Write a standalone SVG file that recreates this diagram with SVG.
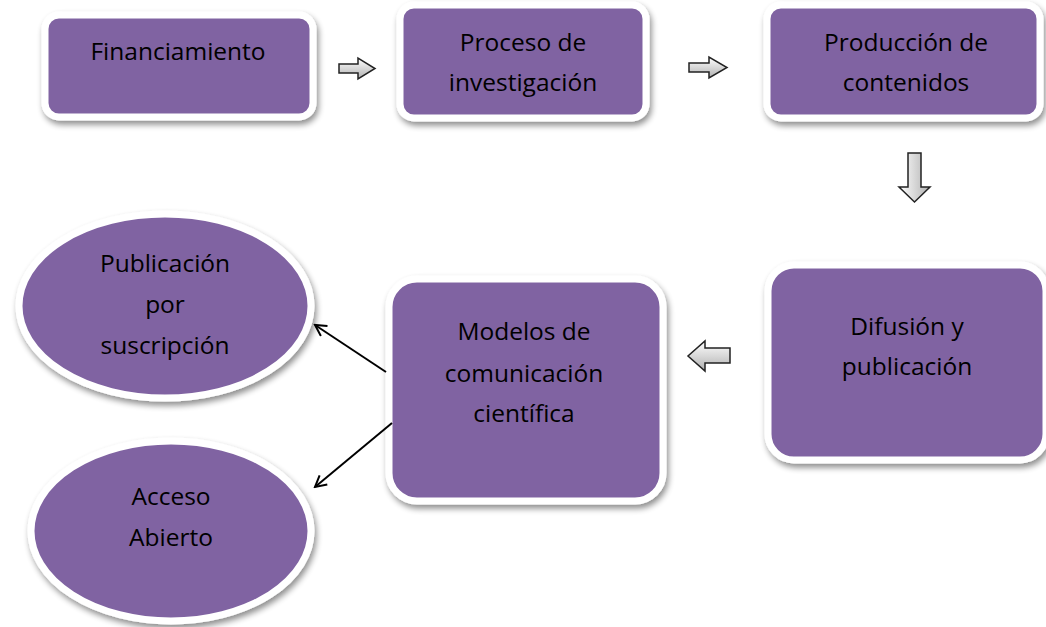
<svg xmlns="http://www.w3.org/2000/svg" width="1046" height="627" viewBox="0 0 1046 627">
<defs>
<filter id="sh" x="-10%" y="-10%" width="130%" height="130%">
<feGaussianBlur in="SourceAlpha" stdDeviation="3"/>
<feOffset dx="2" dy="4" result="b"/>
<feComponentTransfer><feFuncA type="linear" slope="0.45"/></feComponentTransfer>
<feMerge><feMergeNode/><feMergeNode in="SourceGraphic"/></feMerge>
</filter>
<linearGradient id="gv" x1="0" y1="0" x2="0" y2="1"><stop offset="0" stop-color="#ffffff"/><stop offset="1" stop-color="#b0b0b0"/></linearGradient>
<linearGradient id="gh" x1="0" y1="0" x2="1" y2="0"><stop offset="0" stop-color="#ffffff"/><stop offset="1" stop-color="#b0b0b0"/></linearGradient>
<marker id="open" markerWidth="14" markerHeight="14" refX="12" refY="7" orient="auto" markerUnits="userSpaceOnUse">
<path d="M1,1 L12,7 L1,13" fill="none" stroke="#000" stroke-width="2"/>
</marker>
<style>
.n{fill:#8064a2;stroke:#fff;stroke-width:7;filter:url(#sh)}
.t{font-family:"Open Sans","Liberation Sans",sans-serif;font-size:24.5px;fill:#000;text-anchor:middle}
.ba{stroke:#222;stroke-width:1.5;stroke-linejoin:miter}
.c{stroke:#000;stroke-width:2;fill:none;marker-end:url(#open)}
</style>
</defs>
<rect width="1046" height="627" fill="#fff"/>
<g id="n1"><rect class="n" x="45" y="15" width="268" height="102" rx="14"/><text class="t" x="178" y="60">Financiamiento</text></g>
<g id="n2"><rect class="n" x="400" y="5" width="246" height="113" rx="14"/><text class="t" x="523" y="51">Proceso de</text><text class="t" x="523" y="91">investigación</text></g>
<g id="n3"><rect class="n" x="767" y="5" width="273" height="113" rx="14"/><text class="t" x="906" y="51">Producción de</text><text class="t" x="906" y="91">contenidos</text></g>
<g id="n4"><rect class="n" x="768" y="265" width="278" height="195" rx="26"/><text class="t" x="907" y="335">Difusión y</text><text class="t" x="907" y="375">publicación</text></g>
<g id="n5"><rect class="n" x="389" y="279" width="274" height="222" rx="28"/><text class="t" x="524" y="340">Modelos de</text><text class="t" x="524" y="382">comunicación</text><text class="t" x="524" y="422">científica</text></g>
<g id="n6"><ellipse class="n" cx="165" cy="306" rx="146" ry="92"/><text class="t" x="165" y="272">Publicación</text><text class="t" x="165" y="313">por</text><text class="t" x="165" y="354">suscripción</text></g>
<g id="n7"><ellipse class="n" cx="171" cy="531" rx="140" ry="90"/><text class="t" x="171" y="505">Acceso</text><text class="t" x="171" y="546">Abierto</text></g>
<g id="connectors">
<path class="ba" fill="url(#gv)" d="M339,64 L358,64 L358,58 L375,68.5 L358,79 L358,73 L339,73 Z"/>
<path class="ba" fill="url(#gv)" d="M689,63 L709,63 L709,57 L727,67.5 L709,78 L709,72 L689,72 Z"/>
<path class="ba" fill="url(#gh)" d="M908,153 L921,153 L921,187 L930,187 L914.5,202 L899,187 L908,187 Z"/>
<path class="ba" fill="url(#gv)" d="M730,348 L705,348 L705,341 L688,356 L705,371 L705,363 L730,363 Z"/>
<line class="c" x1="386" y1="372" x2="315" y2="325"/>
<line class="c" x1="392" y1="423" x2="315" y2="487"/>
</g>
</svg>
